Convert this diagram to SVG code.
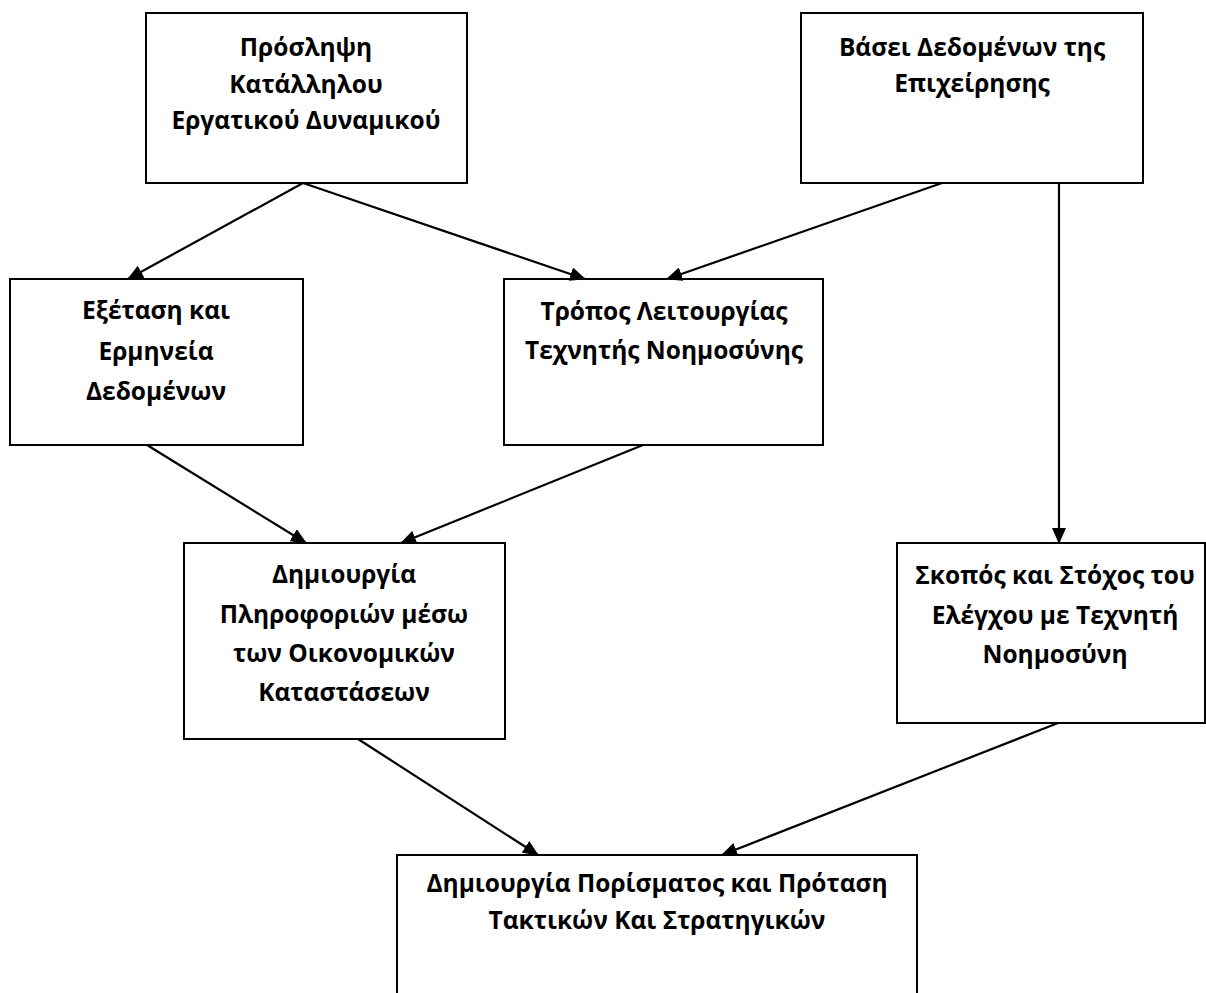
<svg xmlns="http://www.w3.org/2000/svg" width="1206" height="993" viewBox="0 0 1206 993">
<style>
.box{fill:#fff;stroke:#000;stroke-width:2}
.t{font-family:"Open Sans","Noto Sans","DejaVu Sans",sans-serif;font-weight:bold;font-size:24.5px;fill:#000;text-anchor:middle}
.c{stroke:#000;stroke-width:2.2;fill:none;marker-end:url(#ah)}
</style>
<defs>
<marker id="ah" markerWidth="16" markerHeight="14" refX="15" refY="7" orient="auto" markerUnits="userSpaceOnUse">
<path d="M0,0 L16,7 L0,14 Z" fill="#000"/>
</marker>
</defs>
<rect width="1206" height="993" fill="#fff"/>
<g id="n1"><rect class="box" x="146" y="13" width="321" height="170"/>
<text class="t" x="306" y="56">Πρόσληψη</text><text class="t" x="306" y="93">Κατάλληλου</text><text class="t" x="306" y="129">Εργατικού Δυναμικού</text></g>
<g id="n2"><rect class="box" x="801" y="13" width="342" height="170"/>
<text class="t" x="972" y="56">Βάσει Δεδομένων της</text><text class="t" x="972" y="92">Επιχείρησης</text></g>
<g id="n3"><rect class="box" x="10" y="279" width="293" height="166"/>
<text class="t" x="156" y="319">Εξέταση και</text><text class="t" x="156" y="360">Ερμηνεία</text><text class="t" x="156" y="400">Δεδομένων</text></g>
<g id="n4"><rect class="box" x="504" y="279" width="319" height="166"/>
<text class="t" x="664" y="320">Τρόπος Λειτουργίας</text><text class="t" x="664" y="359">Τεχνητής Νοημοσύνης</text></g>
<g id="n5"><rect class="box" x="184" y="543" width="321" height="196"/>
<text class="t" x="344" y="583">Δημιουργία</text><text class="t" x="344" y="623">Πληροφοριών μέσω</text><text class="t" x="344" y="662">των Οικονομικών</text><text class="t" x="344" y="701">Καταστάσεων</text></g>
<g id="n6"><rect class="box" x="897" y="543" width="308" height="180"/>
<text class="t" x="1055" y="584">Σκοπός και Στόχος του</text><text class="t" x="1055" y="624">Ελέγχου με Τεχνητή</text><text class="t" x="1055" y="663">Νοημοσύνη</text></g>
<g id="n7"><path class="box" d="M397,1000 V855 H917 V1000"/>
<text class="t" x="657" y="892">Δημιουργία Πορίσματος και Πρόταση</text><text class="t" x="657" y="929">Τακτικών Και Στρατηγικών</text></g>
<g id="connectors">
<line class="c" x1="303" y1="183" x2="128" y2="279"/>
<line class="c" x1="303" y1="183" x2="585" y2="279"/>
<line class="c" x1="942" y1="183" x2="667" y2="279"/>
<line class="c" x1="1059" y1="183" x2="1059" y2="543"/>
<line class="c" x1="147" y1="445" x2="306" y2="543"/>
<line class="c" x1="643" y1="445" x2="401" y2="543"/>
<line class="c" x1="358" y1="739" x2="538" y2="855"/>
<line class="c" x1="1058" y1="723" x2="722" y2="855"/>
</g>
</svg>
